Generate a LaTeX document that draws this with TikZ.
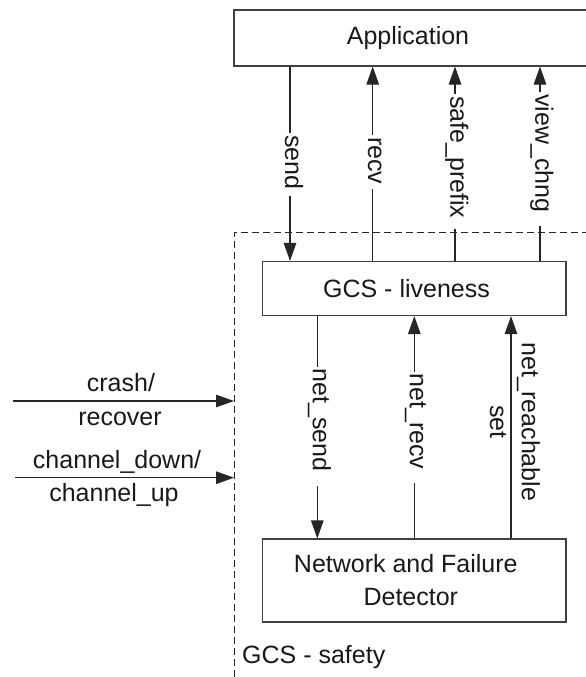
\documentclass[tikz,border=0pt]{standalone}
\usepackage{fontspec}
\setmainfont{Liberation Sans}
\usetikzlibrary{arrows.meta,calc}
\begin{document}
\begin{tikzpicture}[x=1pt,y=-1pt,
  every node/.style={font=\fontsize{25}{33}\selectfont, text=black!90},
  ln/.style={line width=1.1pt, draw=black!85},
  arr/.style={ln, -{Triangle[length=18pt,width=12.5pt]}},
  box/.style={draw=black!75, line width=1.1pt, rectangle, inner sep=0pt, fill=white},
  vlab/.style={rotate=-90, fill=white, inner xsep=2pt, inner ysep=2pt, anchor=base west},
  safety/.style={draw=black!85, line width=0.8pt, dash pattern=on 7pt off 4pt},
]
\useasboundingbox (0,0) rectangle (586,677);
\clip (0,0) rectangle (586,677);

% boxes
\node[box, minimum width=366pt, minimum height=56pt] (app) at (417,38) {Application\kern18pt};
\node[box, minimum width=303.3pt, minimum height=54pt] (gcs) at (414.3,288.5) {GCS - liveness\kern15.6pt};
\node[box, align=center, minimum width=303.3pt, minimum height=83pt] (nfd) at (414.3,580.5) {Network and Failure\kern17pt\\Detector\kern7pt};

% x positions of connectors
\coordinate (xs) at (290,0);
\coordinate (xr) at (372.7,0);
\coordinate (xp) at (455,0);
\coordinate (xv) at (540,0);
\coordinate (xns) at (317.3,0);
\coordinate (xnr) at (414.3,0);
\coordinate (xnre) at (511,0);

% top connectors
\draw[arr] (app.south -| xs) -- (gcs.north -| xs);
\draw[arr] (gcs.north -| xr) -- (app.south -| xr);
\draw[arr] (gcs.north -| xp) -- (app.south -| xp);
\draw[arr] (gcs.north -| xv) -- (app.south -| xv);
\node[vlab] (lsend) at (285,133) {send\kern5pt};
\node[vlab] (lrecv) at (368,135) {recv\kern3pt};
\node[vlab] (lsafe) at (450.3,94) {safe\_prefix\kern9pt};
\node[vlab] (lview) at (535.3,92) {view\_chng\kern12pt};

% safety region (dashed), drawn over the label fills
\draw[safety] (600,232.7) -- (234,232.7) -- (234,690);

% bottom connectors
\draw[arr] (gcs.south -| xns) -- (nfd.north -| xns);
\draw[arr] (nfd.north -| xnr) -- (gcs.south -| xnr);
\draw[arr] (nfd.north -| xnre) -- (gcs.south -| xnre);
\node[vlab] (lnsend) at (312.8,366.3) {net\_send\kern13pt};
\node[vlab] (lnrecv) at (409.8,371.3) {net\_recv\kern12pt};
\node[rotate=-90, align=center, anchor=center, font=\fontsize{25}{31.7}\selectfont] (lreach) at (515,422) {net\_reachable\\set};

% left inputs
\coordinate (c1a) at (12.7,401);
\coordinate (c1b) at (234,401);
\coordinate (c2a) at (15,477.7);
\coordinate (c2b) at (234,477.7);
\draw[arr] (c1a) -- node[pos=0.489, anchor=base, yshift=9.5pt] (lcrash) {crash/}
                    node[pos=0.485, anchor=base, yshift=-24pt] (lrecover) {recover} (c1b);
\draw[arr] (c2a) -- node[pos=0.466, anchor=base, yshift=9.7pt] (lchdown) {channel\_down/}
                    node[pos=0.452, anchor=base, yshift=-24pt] (lchup) {channel\_up} (c2b);

% region label
\node[anchor=base west, inner sep=0pt] (lsafety) at (242,663) {GCS - safety};
\end{tikzpicture}
\end{document}
